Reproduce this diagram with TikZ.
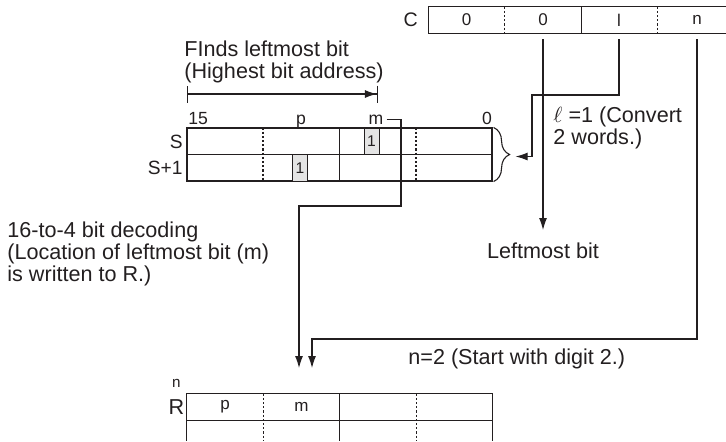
\documentclass[tikz,border=0pt]{standalone}
\usepackage{fontspec}
\setmainfont{Liberation Sans}
\usetikzlibrary{positioning,calc,arrows.meta,decorations.pathreplacing}
\definecolor{ink}{HTML}{231F20}
\definecolor{bitGray}{HTML}{E4E4E4}
\tikzset{
  lbl/.style={inner sep=0pt, text=ink, align=left,
    font=\fontsize{10.8}{11}\selectfont},
  tag/.style={inner sep=0pt, text=ink, font=\fontsize{8.8}{9}\selectfont},
  cell/.style={rectangle, inner sep=0pt, text=ink, minimum width=38pt,
    minimum height=13pt, font=\fontsize{8.5}{9}\selectfont},
  bitbox/.style={rectangle, draw=ink, line width=0.5pt, fill=bitGray,
    inner sep=0pt, minimum width=7.5pt, minimum height=13.25pt,
    text=ink, font=\fontsize{7.8}{8}\selectfont},
  frame/.style={draw=ink, line width=0.55pt},
  divdot/.style={draw=ink, line width=0.55pt, dash pattern=on 1.1pt off 1pt},
  conn/.style={-{Latex[length=6pt,width=4pt]}, draw=ink, line width=0.55pt},
}
\begin{document}
\begin{tikzpicture}[x=0.5pt, y=-0.5pt]
\useasboundingbox (0,0) rectangle (726,441);

% ---------- C word ----------
\node[cell] (c1) at (466.5,20) {0};
\node[cell] (c2) at (543,20) {0};
\node[cell] (c3) at (619,20) {l};
\node[cell, minimum width=29pt] (c4) at (697,20) {n};
\draw[frame] (c4.north east) -- (c1.north west) -- (c1.south west) -- (c4.south east);
\draw[divdot] (c1.north east) -- (c1.south east);
\draw[frame] (c2.north east) -- (c2.south east);
\draw[divdot] (c3.north east) -- (c3.south east);
\node[inner sep=0pt, text=ink, font=\fontsize{9.8}{10}\selectfont,
  left=5pt of c1] (clab) {C};

% ---------- S, S+1 ----------
\node[rectangle, frame, inner sep=0pt, minimum width=152.5pt,
  minimum height=26.5pt] (stab) at (339.5,154.5) {};
\draw[frame] (stab.west) -- (stab.east);
\draw[divdot] ($(stab.north west)!0.25!(stab.north east)$) -- ($(stab.south west)!0.25!(stab.south east)$);
\draw[frame] (stab.north) -- (stab.south);
\draw[divdot] ($(stab.north west)!0.75!(stab.north east)$) -- ($(stab.south west)!0.75!(stab.south east)$);
\node[bitbox] (bitm) at (371.5,141.25) {1};
\node[bitbox] (bitp) at (300,167.75) {1};
\node[tag, font=\fontsize{9.6}{10}\selectfont, anchor=east] (slab) at (183,142) {S};
\node[tag, font=\fontsize{9.6}{10}\selectfont, anchor=east] (s1lab) at (183,168) {S+1};

% bit numbers
\node[tag, anchor=base west] (b15) at (188,124) {15};
\node[tag, anchor=base] (bp) at (301,124) {p};
\node[tag, anchor=base, inner xsep=1.5pt] (bm) at (376,124) {m};
\node[tag, anchor=base] (b0) at (487,124) {0};

% ---------- search range ----------
\node[lbl, anchor=north west] (finds) at (184,40)
  {FInds leftmost bit\\(Highest bit address)};
\coordinate (fl) at (187,94);
\coordinate (fr) at (378,94);
\draw[{Bar[width=8.5pt]}-{Latex[length=6pt,width=4pt]Bar[width=8.5pt]},
  draw=ink, line width=0.55pt] (fl) -- (fr);

% ---------- brace on S, S+1 ----------
\draw[frame, decorate, decoration={brace, amplitude=8pt}]
  ([xshift=0.5pt]stab.north east) -- ([xshift=0.5pt]stab.south east);
\coordinate (btip) at ([xshift=11.5pt,yshift=-1pt]stab.east);

% ---------- R ----------
\node[cell, minimum height=13pt] (r1) at (225,407) {p};
\node[cell, minimum height=13pt] (r2) at (301.5,407) {m};
\node[cell, minimum height=13pt] (r3) at (378,407) {};
\node[cell, minimum height=13pt] (r4) at (454.5,407) {};
\draw[frame] (r1.north west) rectangle (r4.south east);
\draw[frame] (r1.south west) -- ([yshift=-10.5pt]r1.south west);
\draw[frame] (r4.south east) -- ([yshift=-10.5pt]r4.south east);
\draw[divdot] (r1.north east) -- ([yshift=-10.5pt]r1.south east);
\draw[frame] (r2.north east) -- ([yshift=-10.5pt]r2.south east);
\draw[divdot] (r3.north east) -- ([yshift=-10.5pt]r3.south east);
\node[inner sep=0pt, text=ink, font=\fontsize{10.8}{11}\selectfont,
  left=1pt of r1] (rlab) {R};
\node[inner sep=0pt, text=ink, font=\fontsize{7.6}{8}\selectfont,
  above=5.5pt of rlab] (rn) {n};

% ---------- texts ----------
\node[lbl, anchor=north west] (conv) at (553,106)
  {$\ell$ =1 (Convert\\2 words.)};
\node[lbl, anchor=north, inner ysep=6pt] (leftmost) at (543,230) {Leftmost bit};
\node[lbl, anchor=north west] (decode) at (7,221)
  {16-to-4 bit decoding\\(Location of leftmost bit (m)\\is written to R.)};
\node[lbl, anchor=base west] (digit) at (408,364) {n=2 (Start with digit 2.)};

% ================= Connectors =================
\coordinate (kb) at (532,95);
\coordinate (km) at (401,206);
\coordinate (kc) at (312,339);
\coordinate (rin1) at (299,368);
\coordinate (rin2) at (312,368);

% 0 -> Leftmost bit
\draw[conn] ([yshift=-3pt]c2.south) -- (leftmost.north);
% l -> S, S+1
\draw[conn] ([yshift=-3pt]c3.south) |- (kb) |- (btip);
% m -> R
\draw[conn] (bm.east) -| (km) -| (rin1);
% n -> R
\draw[conn] ([yshift=-3pt]c4.south) |- (kc) -- (rin2);

\end{tikzpicture}
\end{document}
